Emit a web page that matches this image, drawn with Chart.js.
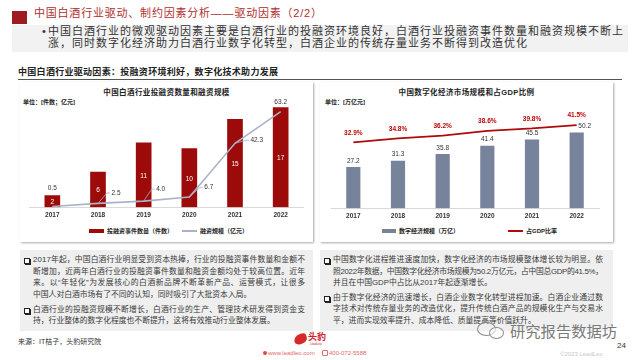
<!DOCTYPE html>
<html><head><meta charset="utf-8">
<script src="https://cdn.jsdelivr.net/npm/chart.js@4"></script>
<style>
html,body{margin:0;padding:0;background:#fff;}
body{width:640px;height:360px;position:relative;overflow:hidden;font-family:"Liberation Sans","Noto Sans CJK SC",sans-serif;color:#333;}
.a{position:absolute;white-space:nowrap;}
.panel{position:absolute;background:#fff;box-shadow:1px 1px 2px rgba(0,0,0,0.35);}
.box{position:absolute;background:#efefef;}
.ln{position:absolute;font-size:7.8px;line-height:10px;height:10px;white-space:nowrap;color:#3a3a3a;}
.chk{position:absolute;width:4px;height:4px;border:1px solid #222;box-shadow:1px 1px 0 #222;background:#fff;}
canvas{position:absolute;}
</style></head>
<body>
<!-- header -->
<div class="a" style="left:12px;top:11px;width:15px;height:13px;background:#9e1c20;"></div>
<div class="a" data-w="288" style="left:34px;top:6px;font-size:11px;line-height:14px;color:#b0302f;">中国白酒行业驱动、制约因素分析——驱动因素（2/2）</div>
<div class="box" style="left:12px;top:25px;width:616px;height:27px;background:#f2f2f2;"></div>
<div class="a" style="left:42px;top:24.7px;font-size:11px;line-height:12px;color:#333;">•</div>
<div class="a" data-w="575" style="left:48px;top:24.7px;font-size:11px;line-height:12px;color:#333;">中国白酒行业的微观驱动因素主要是白酒行业的投融资环境良好，白酒行业投融资事件数量和融资规模不断上</div>
<div class="a" data-w="479" style="left:48px;top:36.7px;font-size:11px;line-height:12px;color:#333;">涨，同时数字化经济助力白酒行业数字化转型，白酒企业的传统存量业务不断得到改造优化</div>

<div class="a" data-w="260" style="left:18px;top:67.2px;font-size:9px;line-height:11px;font-weight:bold;color:#222;">中国白酒行业驱动因素：投融资环境利好，数字化技术助力发展</div>
<div class="a" style="left:18px;top:78.5px;width:604px;height:1.6px;background:#555;"></div>

<!-- panels -->
<div class="panel" style="left:20px;top:82px;width:293px;height:160px;"></div>
<div class="panel" style="left:320px;top:82px;width:293px;height:160px;"></div>

<div class="a" style="left:20px;width:293px;text-align:center;top:87.8px;font-size:7.5px;line-height:9px;font-weight:bold;letter-spacing:0.4px;color:#222;">中国白酒行业投融资数量和融资规模</div>
<div class="a" style="left:23px;top:97.7px;font-size:6px;line-height:8px;font-weight:bold;color:#222;">单位：[件数；亿元]</div>
<div class="a" style="left:320px;width:293px;text-align:center;top:87.5px;font-size:7.5px;line-height:9px;font-weight:bold;letter-spacing:0.4px;color:#222;">中国数字化经济市场规模和占GDP比例</div>
<div class="a" style="left:325px;top:98px;font-size:6px;line-height:8px;font-weight:bold;color:#222;">单位：[万亿元]</div>

<canvas id="c1" width="293" height="140" style="left:20px;top:83px;width:293px;height:140px;"></canvas>
<canvas id="c2" width="293" height="141" style="left:320px;top:83px;width:293px;height:141px;"></canvas>

<!-- legends -->
<div class="a" style="left:89px;top:229.3px;width:15px;height:3.5px;background:#9c0a0a;"></div>
<div class="a" style="left:107px;top:227px;font-size:6px;line-height:8px;font-weight:bold;color:#222;">投融资事件数量（件数）</div>
<div class="a" style="left:182px;top:230.2px;width:15px;height:1.6px;background:#aab3c6;"></div>
<div class="a" style="left:200px;top:227px;font-size:6px;line-height:8px;font-weight:bold;color:#222;">融资规模（亿元）</div>

<div class="a" style="left:382px;top:229.3px;width:14px;height:3.5px;background:#76839a;"></div>
<div class="a" style="left:399px;top:227px;font-size:6px;line-height:8px;font-weight:bold;color:#222;">数字经济规模（万亿）</div>
<div class="a" style="left:508px;top:230px;width:15px;height:1.8px;background:#b00a0a;"></div>
<div class="a" style="left:526px;top:227px;font-size:6px;line-height:8px;font-weight:bold;color:#222;">占GDP比率</div>

<!-- bottom text boxes -->
<div class="box" style="left:20px;top:250px;width:293px;height:81px;"></div>
<div class="box" style="left:320px;top:250px;width:293px;height:81px;"></div>

<div class="chk" style="left:24px;top:257.5px;"></div>
<div class="ln" data-w="272" style="left:33px;top:255px;">2017年起，中国白酒行业明显受到资本热捧，行业的投融资事件数量和金额不</div>
<div class="ln" data-w="272" style="left:33px;top:266.5px;">断增加，近两年白酒行业的投融资事件数量和融资金额均处于较高位置。近年</div>
<div class="ln" data-w="272" style="left:33px;top:278.3px;">来。以“年轻化”为发展核心的白酒新品牌不断革新产品、运营模式，让很多</div>
<div class="ln" style="left:33px;top:290px;">中国人对白酒市场有了不同的认知，同时吸引了大批资本入局。</div>
<div class="chk" style="left:24px;top:307.5px;"></div>
<div class="ln" data-w="272" style="left:33px;top:305px;">白酒行业的投融资规模不断增长，白酒行业的生产、管理技术研发得到资金支</div>
<div class="ln" style="left:33px;top:315.7px;">持，行业整体的数字化程度也不断提升，这将有效推动行业整体发展。</div>

<div class="chk" style="left:324px;top:257.5px;"></div>
<div class="ln" data-w="270" style="left:333px;top:255px;">中国数字化进程推进速度加快，数字化经济的市场规模整体增长较为明显。依</div>
<div class="ln" data-w="270" style="left:333px;top:266.7px;">照2022年数据，中国数字化经济市场规模为50.2万亿元，占中国总GDP的41.5%，</div>
<div class="ln" style="left:333px;top:278px;">并且在中国GDP中占比从2017年起逐渐增长。</div>
<div class="chk" style="left:324px;top:295.8px;"></div>
<div class="ln" data-w="270" style="left:333px;top:293.3px;">由于数字化经济的迅速增长，白酒企业数字化转型进程加速。白酒企业通过数</div>
<div class="ln" data-w="270" style="left:333px;top:304.3px;">字技术对传统存量业务的改造优化，提升传统白酒产品的规模化生产与交易水</div>
<div class="ln" style="left:333px;top:316px;">平，进而实现效率提升、成本降低、质量提高等价值跃升。</div>

<div class="a" style="left:18px;top:336.5px;font-size:7px;line-height:9px;color:#333;">来源：IT桔子，头豹研究院</div>

<!-- logo -->
<div class="a" style="left:294px;top:334px;width:13px;height:10px;background:#d42a2a;border-radius:60% 30% 50% 40%;transform:rotate(-15deg);"></div>
<div class="a" style="left:308px;top:331.5px;font-size:9px;line-height:11px;font-weight:bold;color:#d0202a;">头豹</div>
<div class="a" style="left:310px;top:342px;font-size:3px;line-height:4px;color:#d0202a;">LeadLeo</div>
<div class="a" style="left:263px;top:350.5px;width:4px;height:4px;border-radius:50%;background:#e04848;"></div>
<div class="a" style="left:268px;top:349.5px;font-size:6px;line-height:7px;color:#e06a6a;">www.leadleo.com</div>
<div class="a" style="left:322px;top:350px;width:4px;height:4px;border:1px solid #e06a6a;border-radius:1px;"></div>
<div class="a" style="left:329px;top:349.5px;font-size:6px;line-height:7px;color:#e06a6a;">400-072-5588</div>

<!-- watermark -->
<div class="a" style="left:477px;top:322px;width:17px;height:12px;border:1.3px solid #8a8a8a;border-radius:50%;"></div>
<div class="a" style="left:489px;top:327px;width:13px;height:10px;border:1.3px solid #8a8a8a;border-radius:50%;background:rgba(255,255,255,0.6);"></div>
<div class="a" style="left:510px;top:322px;font-size:15.3px;line-height:19px;color:#7a7a7a;">研究报告数据坊</div>
<div class="a" style="left:617px;top:341px;font-size:8px;line-height:10px;color:#333;">24</div>
<div class="a" style="left:560px;top:350.5px;font-size:6px;line-height:7px;color:#c8c8c8;">©2023 LeadLeo</div>

<script>
// fit text lines to their target widths (justify by letter spacing)
function fitLines(){
  document.querySelectorAll('[data-w]').forEach(el=>{
    el.style.letterSpacing = '0px';
    const target = parseFloat(el.dataset.w);
    const n = Array.from(el.textContent).length;
    const w = el.getBoundingClientRect().width;
    el.style.letterSpacing = ((target - w) / (n - 1)) + 'px';
  });
}
fitLines();
if (document.fonts && document.fonts.ready) document.fonts.ready.then(fitLines);

const years = ['2017','2018','2019','2020','2021','2022'];
const dealCounts = [2, 6, 11, 10, 15, 17];
const financing = [0.5, 2.5, 4.0, 6.7, 42.3, 63.2];
const digitalScale = [27.2, 31.3, 35.8, 41.4, 45.5, 50.2];
const gdpShare = [32.9, 34.8, 36.2, 38.6, 39.8, 41.5];

const tickFont = {family:'"Liberation Sans", Arial, sans-serif', size:6.5, weight:'bold'};

const leftLabels = {
  id:'leftLabels',
  afterDatasetsDraw(chart){
    const ctx = chart.ctx;
    const lineMeta = chart.getDatasetMeta(0), barMeta = chart.getDatasetMeta(1);
    ctx.save();
    ctx.font = '6.5px "Liberation Sans", Arial, sans-serif';
    ctx.textBaseline = 'middle';
    barMeta.data.forEach((bar,i)=>{
      ctx.fillStyle = '#ffffff';
      ctx.textAlign = 'center';
      ctx.fillText(String(dealCounts[i]), bar.x, (bar.y + bar.base)/2 + 1);
    });
    const leaders = [null, [9,-10.5], [8,-12], [10.5,-9.5], [11,-3], null];
    const above = [18.5, 0, 0, 0, 0, 9];
    lineMeta.data.forEach((pt,i)=>{
      const txt = financing[i].toFixed(1);
      ctx.fillStyle = '#333';
      const L = leaders[i];
      if (!L) {
        ctx.textAlign = 'center';
        ctx.fillText(txt, pt.x, pt.y - above[i]);
      } else {
        ctx.strokeStyle = '#a9b2c4';
        ctx.lineWidth = 0.8;
        ctx.beginPath();
        ctx.moveTo(pt.x, pt.y);
        ctx.lineTo(pt.x + L[0], pt.y + L[1]);
        ctx.lineTo(pt.x + L[0] + 3, pt.y + L[1]);
        ctx.stroke();
        ctx.textAlign = 'left';
        ctx.fillText(txt, pt.x + L[0] + 4.5, pt.y + L[1]);
      }
    });
    ctx.restore();
  }
};

const rightLabels = {
  id:'rightLabels',
  afterDatasetsDraw(chart){
    const ctx = chart.ctx;
    const lineMeta = chart.getDatasetMeta(0), barMeta = chart.getDatasetMeta(1);
    ctx.save();
    ctx.textBaseline = 'middle';
    ctx.textAlign = 'center';
    ctx.font = '6.5px "Liberation Sans", Arial, sans-serif';
    barMeta.data.forEach((bar,i)=>{
      ctx.fillStyle = '#333';
      const dx = (i === barMeta.data.length-1) ? 8 : 0;
      ctx.fillText(digitalScale[i].toFixed(1), bar.x + dx, bar.y - 6.5);
    });
    ctx.font = 'bold 6.5px "Liberation Sans", Arial, sans-serif';
    lineMeta.data.forEach((pt,i)=>{
      ctx.fillStyle = '#c00000';
      ctx.fillText(gdpShare[i].toFixed(1) + '%', pt.x, pt.y - 9.5);
    });
    ctx.restore();
  }
};

const xScale = {
  grid:{display:false, drawTicks:false},
  border:{display:true, color:'#d9d9d9', width:1},
  ticks:{font:tickFont, color:'#333', padding:4}
};

new Chart(document.getElementById('c1'), {
  data:{
    labels: years,
    datasets:[
      {type:'line', data:financing, yAxisID:'y2', borderColor:'#aab3c6', borderWidth:1.6, pointRadius:0, tension:0, order:0},
      {type:'bar', data:dealCounts, yAxisID:'y', backgroundColor:'#9c0a0a', barThickness:15, order:1}
    ]
  },
  options:{
    responsive:false, animation:false, devicePixelRatio:1,
    layout:{padding:{left:9.5, right:9.5, top:17, bottom:0}},
    plugins:{legend:{display:false}, tooltip:{enabled:false}},
    scales:{
      x: xScale,
      y:{display:false, min:0, max:18.3},
      y2:{display:false, min:0, max:70.9, position:'right'}
    }
  },
  plugins:[leftLabels]
});

new Chart(document.getElementById('c2'), {
  data:{
    labels: years,
    datasets:[
      {type:'line', data:gdpShare, yAxisID:'y2', borderColor:'#b00a0a', borderWidth:1.8, pointRadius:0, tension:0, order:0},
      {type:'bar', data:digitalScale, yAxisID:'y', backgroundColor:'#76839a', barThickness:13.5, order:1}
    ]
  },
  options:{
    responsive:false, animation:false, devicePixelRatio:1,
    layout:{padding:{left:11, right:14, top:17, bottom:0}},
    plugins:{legend:{display:false}, tooltip:{enabled:false}},
    scales:{
      x: xScale,
      y:{display:false, min:0, max:72},
      y2:{display:false, min:0, max:54, position:'right'}
    }
  },
  plugins:[rightLabels]
});
</script>
</body></html>
